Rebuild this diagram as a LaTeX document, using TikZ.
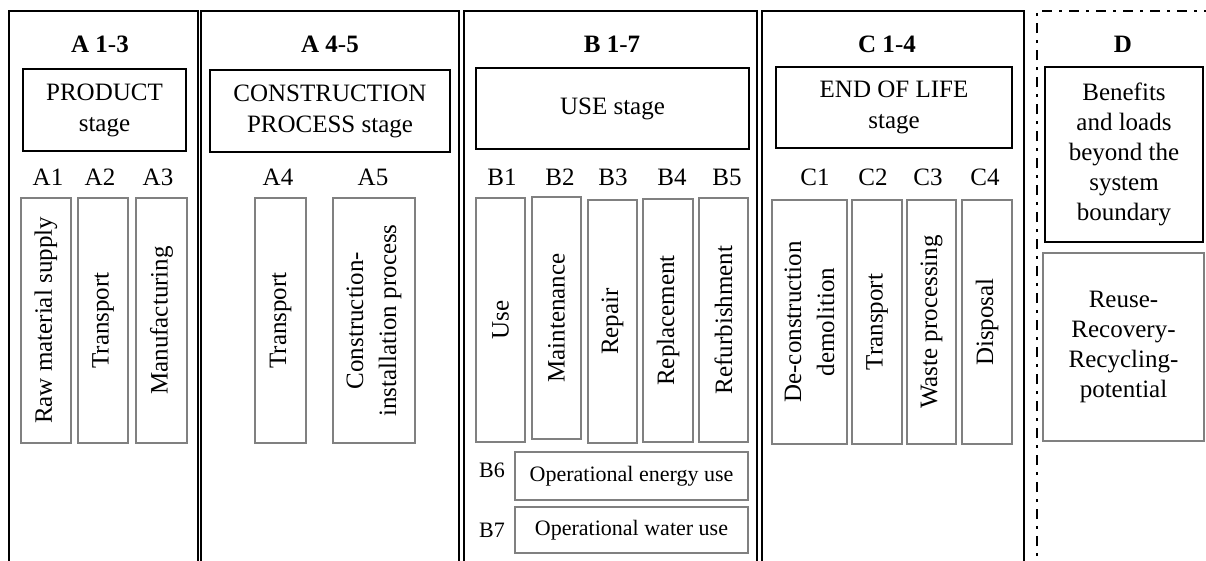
\documentclass[tikz,border=0pt]{standalone}
\usepackage{fontspec}
\setmainfont{Liberation Serif}
\definecolor{boxgray}{RGB}{128,128,128}
\newcommand\fbig{\fontsize{25}{31}\selectfont}
\newcommand\fmulti{\fontsize{25}{30}\selectfont}
\newcommand\fvert{\fontsize{25}{33}\selectfont}
\newcommand\fsmall{\fontsize{22}{26}\selectfont}
\begin{document}
\begin{tikzpicture}[x=1pt,y=-1pt,
  panel/.style={draw=black,line width=2pt},
  dpanel/.style={draw=black,line width=2.5pt,dash pattern=on 10pt off 7pt on 3pt off 7pt},
  head/.style={inner sep=0pt,font=\fbig\bfseries},
  lbl/.style={inner sep=0pt,font=\fbig},
  slbl/.style={inner sep=0pt,font=\fsmall},
  stagebox/.style={draw=black,line width=1.5pt,inner sep=0pt,align=center,font=\fbig},
  subbox/.style={draw=boxgray,line width=2pt,inner sep=0pt,rotate=90,align=center,font=\fvert},
  hbox/.style={draw=boxgray,line width=2pt,inner sep=0pt,align=center,font=\fsmall},
]
\useasboundingbox (0,0) rectangle (1206,560);
\clip (0,0) rectangle (1206,560);
\fill[white] (0,0) rectangle (1206,560);

% panels
\draw[panel] (9,11) rectangle (198,600);
\draw[panel] (200.5,11) rectangle (459,600);
\draw[panel] (464,11) rectangle (757,600);
\draw[panel] (762,11) rectangle (1024,600);
\draw[dpanel] (1037,600) -- (1037,11) -- (1220,11);

% headers
\node[head] (hA13) at (100,44) {A 1\textmd{-}3};
\node[head] (hA45) at (330,44) {A 4\textmd{-}5};
\node[head] (hB17) at (612,44) {B 1\textmd{-}7};
\node[head] (hC14) at (887,44) {C 1\textmd{-}4};
\node[head] (hD) at (1123,44) {D};

% stage boxes
\node[stagebox,minimum width=163pt,minimum height=82pt] (prod) at (104.5,110) {PRODUCT\\stage};
\node[stagebox,minimum width=240pt,minimum height=82pt] (cons) at (330,111) {CONSTRUCTION\\PROCESS stage};
\node[stagebox,minimum width=273pt,minimum height=81pt] (use) at (612.5,108.5) {USE stage};
\node[stagebox,minimum width=236pt,minimum height=81pt] (eol) at (894,107.5) {END OF LIFE\\stage};
\node[stagebox,font=\fmulti,minimum width=158pt,minimum height=175pt] (ben) at (1124,154.5) {Benefits\\and loads\\beyond the\\system\\boundary};
\node[subbox,font=\fmulti,rotate=-90,minimum width=161pt,minimum height=188pt] (reuse) at (1123.5,347) {Reuse-\\Recovery-\\Recycling-\\potential};

% module labels
\node[lbl] (lA1) at (48,177) {A1};
\node[lbl] (lA2) at (100,177) {A2};
\node[lbl] (lA3) at (158,177) {A3};
\node[lbl] (lA4) at (278,177) {A4};
\node[lbl] (lA5) at (373,177) {A5};
\node[lbl] (lB1) at (502,177) {B1};
\node[lbl] (lB2) at (560,177) {B2};
\node[lbl] (lB3) at (613,177) {B3};
\node[lbl] (lB4) at (672,177) {B4};
\node[lbl] (lB5) at (727,177) {B5};
\node[lbl] (lC1) at (815,177) {C1};
\node[lbl] (lC2) at (873,177) {C2};
\node[lbl] (lC3) at (928,177) {C3};
\node[lbl] (lC4) at (985,177) {C4};

% vertical module boxes (minimum width = box height, minimum height = box width)
\node[subbox,minimum width=245pt,minimum height=50pt] (A1) at (46,320.5) {Raw material supply};
\node[subbox,minimum width=245pt,minimum height=50pt] (A2) at (103,320.5) {Transport};
\node[subbox,minimum width=245pt,minimum height=51pt] (A3) at (161.5,320.5) {Manufacturing};
\node[subbox,minimum width=245pt,minimum height=51pt] (A4) at (280.5,320.5) {Transport};
\node[subbox,minimum width=245pt,minimum height=82pt] (A5) at (374,320.5) {Construction-\\installation process};
\node[subbox,minimum width=244pt,minimum height=49pt] (B1) at (500.5,320) {Use};
\node[subbox,minimum width=242pt,minimum height=49pt] (B2) at (556.5,318) {Maintenance};
\node[subbox,minimum width=243pt,minimum height=49pt] (B3) at (612.5,321.5) {Repair};
\node[subbox,minimum width=243pt,minimum height=50pt] (B4) at (668,320.5) {Replacement};
\node[subbox,minimum width=244pt,minimum height=49pt] (B5) at (723.5,320) {Refurbishment};
\node[subbox,minimum width=244pt,minimum height=75pt] (C1) at (809.5,322) {De-construction\\demolition};
\node[subbox,minimum width=244pt,minimum height=50pt] (C2) at (877,322) {Transport};
\node[subbox,minimum width=244pt,minimum height=49pt] (C3) at (931.5,322) {Waste processing};
\node[subbox,minimum width=244pt,minimum height=50pt] (C4) at (987,322) {Disposal};

% B6, B7
\node[hbox,minimum width=233pt,minimum height=48pt] (B6) at (631.5,476) {Operational energy use};
\node[hbox,minimum width=233pt,minimum height=46pt] (B7) at (631.5,530) {Operational water use};
\node[slbl] (lB6) at (492,470) {B6};
\node[slbl] (lB7) at (492,530) {B7};
\end{tikzpicture}
\end{document}
